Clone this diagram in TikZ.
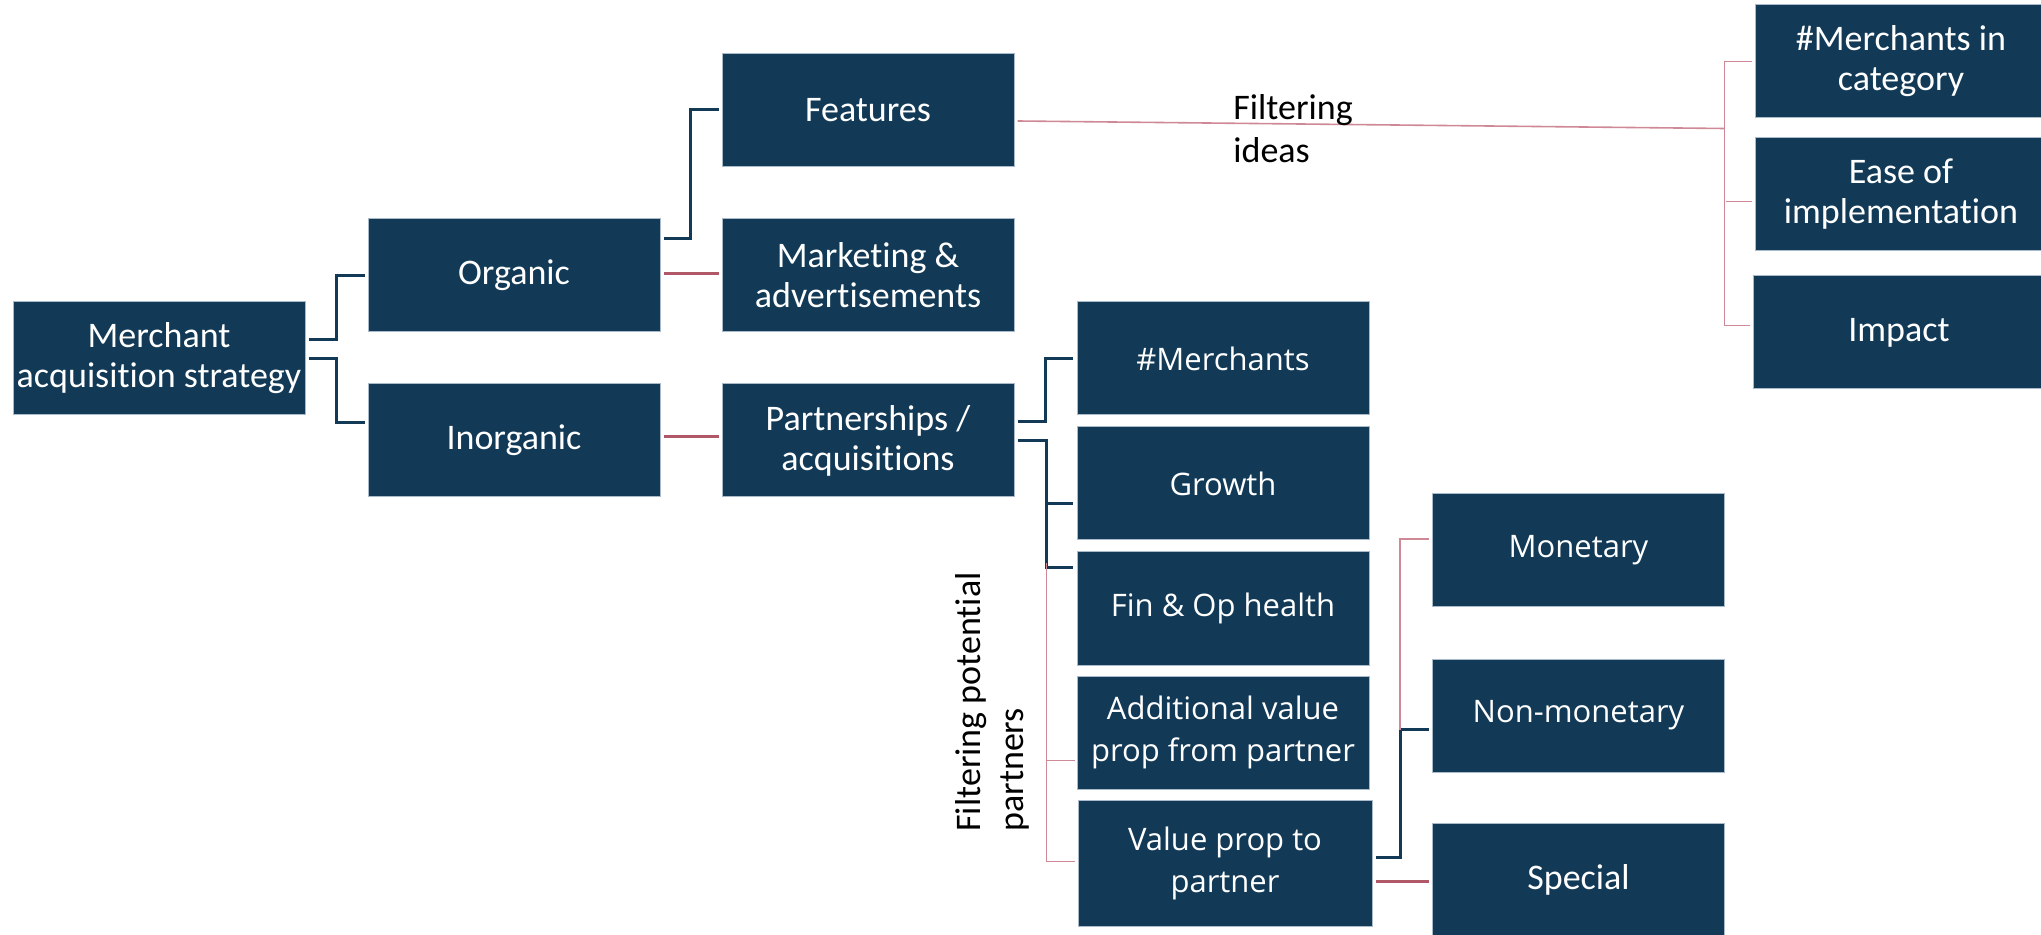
\documentclass[tikz,border=0pt]{standalone}
\usepackage{fontspec}
\setmainfont{Carlito}[Ligatures=NoCommon]
\newfontfamily\opensans{Open Sans}[Ligatures=NoCommon]
\usepackage{xcolor}
\definecolor{boxNavy}{HTML}{123A57}
\definecolor{boxEdge}{HTML}{A9BBCB}
\definecolor{linkRed}{HTML}{B05868}
\definecolor{linkPink}{HTML}{CF8996}
\usetikzlibrary{calc}

\begin{document}
\begin{tikzpicture}[x=0.5pt, y=-0.5pt,
  card/.style={fill=boxNavy, draw=boxEdge, line width=0.5pt, text=white, align=center,
    minimum width=146pt, minimum height=56.5pt, inner sep=0pt,
    font=\fontsize{18}{20}\selectfont},
  cardsans/.style={card, font=\opensans\fontsize{15.5}{21}\selectfont},
  navylink/.style={draw=boxNavy, line width=1.5pt},
  redlink/.style={draw=linkRed, line width=1.5pt},
  pinklink/.style={draw=linkPink, line width=0.8pt},
  note/.style={inner sep=0pt, align=left, text=black, font=\fontsize{18}{21.5}\selectfont}]
  \useasboundingbox (0,0) rectangle (2041,935);
  \clip (0,0) rectangle (2041,935);

  % ---------------- the tree: root and first split ----------------
  \node[card] (merch) at (159,358.5) {Merchant\\acquisition strategy};
  \node[card] (org)   at (514,275.5) {Organic};
  \node[card] (inorg) at (514,440.5) {Inorganic};

  % ---------------- second level ----------------
  \node[card] (feat)    at (868,110)   {Features};
  \node[card] (mkt)     at (868,275.5) {Marketing \&\\advertisements};
  \node[card] (partner) at (868,440.5) {Partnerships /\\acquisitions};

  % ---------------- partner criteria ----------------
  \node[cardsans] (count)  at (1223,358.5) {\#Merchants};
  \node[cardsans] (growth) at (1223,483.5) {Growth};
  \node[cardsans] (health) at (1223,608.5) {Fin \& Op health};
  \node[cardsans] (extra)  at (1223,732.5) {Additional value\\prop from partner};
  \node[cardsans, minimum width=147pt, minimum height=63pt] (offer) at (1225,863.5) {Value prop to\\partner};

  % ---------------- what we offer ----------------
  \node[cardsans] (money)    at (1578.5,550)   {Monetary};
  \node[cardsans] (nonmoney) at (1578.5,715.5) {Non-monetary};
  \node[card]     (special)  at (1578.5,879.5) {Special};

  % ---------------- idea criteria ----------------
  \node[card] (cat)    at (1901,61.5)  {\#Merchants in\\category};
  \node[card] (ease)   at (1901,194.5) {Ease of\\implementation};
  \node[card] (impact) at (1899,332.5) {Impact};

  % ---------------- connectors ----------------
  \draw[navylink] ($(merch.east)+(3,-19)$) -- ++(28,0) |- ($(org.west)+(-3,0)$);
  \draw[navylink] ($(merch.east)+(3,0)$) -- ++(28,0) |- ($(inorg.west)+(-3,-18)$);
  \draw[navylink] ($(org.east)+(3,-37)$) -- ++(27,0) |- ($(feat.west)+(-3,0)$);
  \draw[redlink] ($(org.east)+(3,-2)$) -- ($(mkt.west)+(-3,-2)$);
  \draw[redlink] ($(inorg.east)+(3,-4)$) -- ($(partner.west)+(-3,-4)$);

  \draw[navylink] ($(partner.east)+(3,-19)$) -- ++(28,0) |- ($(count.west)+(-4,0)$);
  \draw[navylink] ($(partner.east)+(3,0)$) -- ++(29,0) |- ($(health.west)+(-4,-41)$);
  \draw[navylink] ($(growth.west)+(-31,20)$) -- ($(growth.west)+(-4,20)$);

  \draw[pinklink] ($(health.west)+(-30,-45)$) |- ($(offer.west)+(-3,-2)$);
  \draw[pinklink] ($(extra.west)+(-30,28)$) -- ($(extra.west)+(-2,28)$);

  \draw[navylink] ($(offer.east)+(3,-6)$) -- ++(25,0) |- ($(nonmoney.west)+(-3,14)$);
  \draw[pinklink] ($(nonmoney.west)+(-32,14)$) |- ($(money.west)+(-3,-11)$);
  \draw[redlink] ($(offer.east)+(3,18)$) -- ($(special.west)+(-3,2)$);

  \draw[pinklink] ($(feat.east)+(3,11)$) -- ($(cat.west)+(-30,67)$);
  \draw[pinklink] ($(cat.west)+(-3,0)$) -- ++(-27,0) |- ($(impact.west)+(-3,-7)$);
  \draw[pinklink] ($(ease.west)+(-29,7)$) -- ($(ease.west)+(-3,7)$);

  % ---------------- labels ----------------
  \node[note, anchor=north west] (ideas) at (1233,94) {Filtering\\ideas};
  \node[note, rotate=90, anchor=north west] (sieve) at (955,832) {Filtering potential\\partners};
\end{tikzpicture}
\end{document}
